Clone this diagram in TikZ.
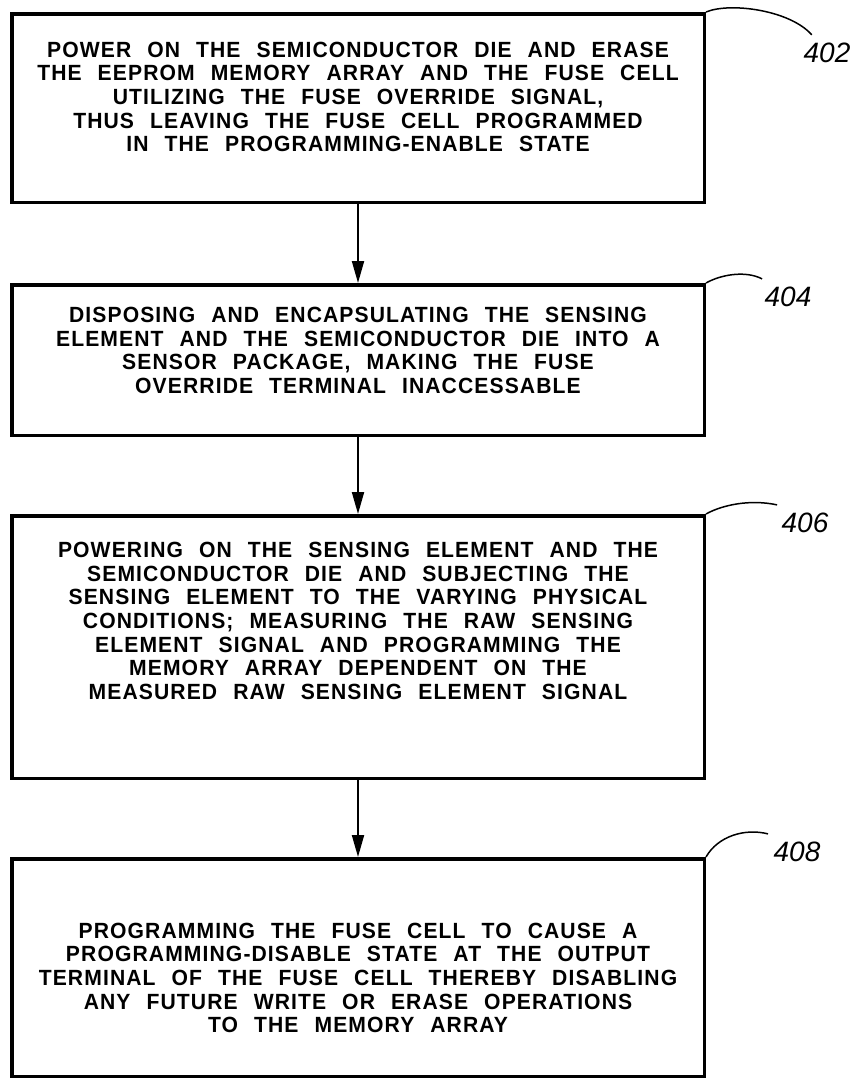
\documentclass[tikz,border=0pt]{standalone}
\usepackage{fontspec}
\setmainfont{Liberation Sans}
\newfontfamily\stepfont{Liberation Sans}[FakeStretch=0.96,LetterSpace=5,WordSpace=2.3]
\usetikzlibrary{arrows.meta,positioning}
\begin{document}
\begin{tikzpicture}[x=1pt,y=-1pt,
  stepbox/.style={draw,line width=3.5pt,minimum width=692.5pt,inner sep=0pt},
  steptext/.style={align=center,inner sep=0pt,font=\stepfont\fontsize{22}{23.6}\selectfont\bfseries},
  reflabel/.style={inner sep=8pt,font=\fontsize{28}{28}\selectfont\itshape},
  flow/.style={line width=2pt,-{Triangle[length=22pt,width=12pt]}},
  leader/.style={line width=1.5pt}]
  \useasboundingbox (0,0) rectangle (859,1082);
  % boxes
  \node[stepbox,minimum height=188.5pt] (s402) at (358,108) {};
  \node[stepbox,minimum height=150.5pt] (s404) at (358,360) {};
  \node[stepbox,minimum height=262.5pt] (s406) at (358,647) {};
  \node[stepbox,minimum height=217.5pt] (s408) at (358,967.5) {};
  % step texts
  \node[steptext] (t402) at (358,97) {POWER ON THE SEMICONDUCTOR DIE AND ERASE\\
    THE EEPROM MEMORY ARRAY AND THE FUSE CELL\\
    UTILIZING THE FUSE OVERRIDE SIGNAL,\\
    THUS LEAVING THE FUSE CELL PROGRAMMED\\
    IN THE PROGRAMMING-ENABLE STATE};
  \node[steptext] (t404) at (358,350.5) {DISPOSING AND ENCAPSULATING THE SENSING\\
    ELEMENT AND THE SEMICONDUCTOR DIE INTO A\\
    SENSOR PACKAGE, MAKING THE FUSE\\
    OVERRIDE TERMINAL INACCESSABLE};
  \node[steptext] (t406) at (358,621) {POWERING ON THE SENSING ELEMENT AND THE\\
    SEMICONDUCTOR DIE AND SUBJECTING THE\\
    SENSING ELEMENT TO THE VARYING PHYSICAL\\
    CONDITIONS; MEASURING THE RAW SENSING\\
    ELEMENT SIGNAL AND PROGRAMMING THE\\
    MEMORY ARRAY DEPENDENT ON THE\\
    MEASURED RAW SENSING ELEMENT SIGNAL};
  \node[steptext] (t408) at (358,978) {PROGRAMMING THE FUSE CELL TO CAUSE A\\
    PROGRAMMING-DISABLE STATE AT THE OUTPUT\\
    TERMINAL OF THE FUSE CELL THEREBY DISABLING\\
    ANY FUTURE WRITE OR ERASE OPERATIONS\\
    TO THE MEMORY ARRAY};
  % reference numerals
  \node[reflabel] (l402) at (827,53) {402};
  \node[reflabel] (l404) at (788,297) {404};
  \node[reflabel] (l406) at (805,523) {406};
  \node[reflabel] (l408) at (797,852) {408};
  % flow arrows
  \draw[flow] (s402.south) -- (s404.north);
  \draw[flow] (s404.south) -- (s406.north);
  \draw[flow] (s406.south) -- (s408.north);
  % leaders
  \draw[leader] (s402.north east) .. controls (730,2) and (790,10) .. (l402.130);
  \draw[leader] (s404.north east) .. controls (720,275) and (745,270) .. (l404.145);
  \draw[leader] (s406.north east) .. controls (722,505) and (750,499) .. (l406.147);
  \draw[leader] (s408.north east) .. controls (718,836) and (745,828) .. (l408.148);
\end{tikzpicture}
\end{document}
